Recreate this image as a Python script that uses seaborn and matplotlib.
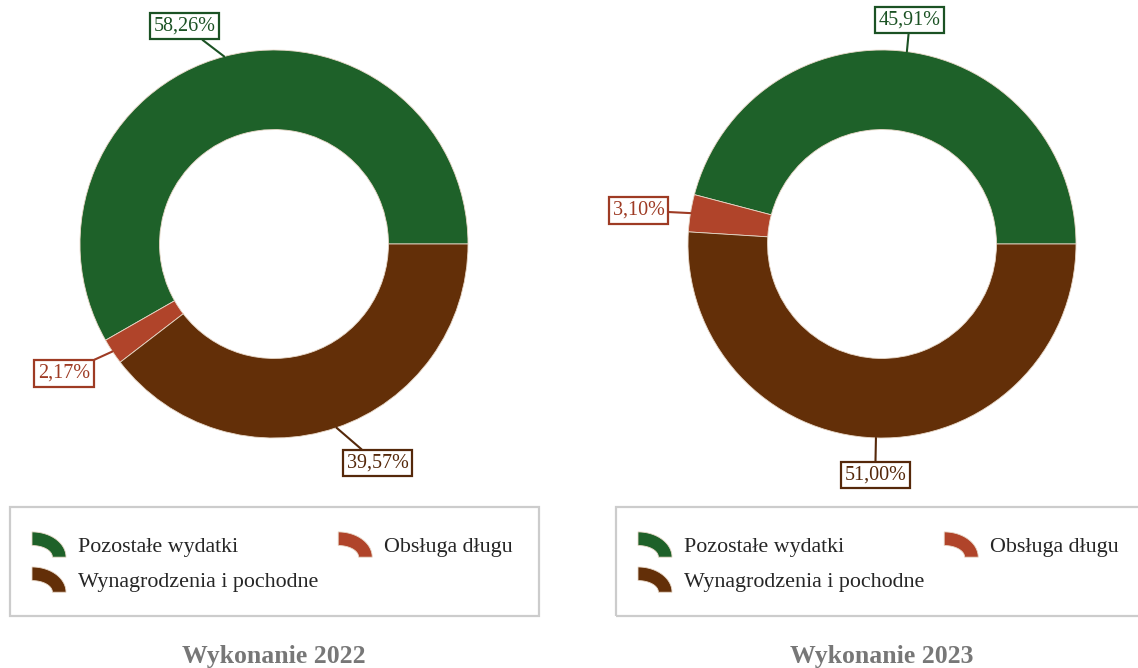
"""Two donut charts: structure of expenses in 2022 and 2023."""

import numpy as np
import matplotlib.pyplot as plt
import seaborn as sns
from matplotlib.patches import Wedge, Rectangle, Polygon
from matplotlib.legend_handler import HandlerPatch

categories = ["Pozostałe wydatki", "Obsługa długu", "Wynagrodzenia i pochodne"]
shares_2022 = [58.26, 2.17, 39.57]
shares_2023 = [45.91, 3.10, 51.00]
titles = ["Wykonanie 2022", "Wykonanie 2023"]

colors = ["#1e6129", "#b0442a", "#632f08"]
label_colors = ["#1b5224", "#9e3b24", "#55280a"]

W, H = 1138, 668


def arc_icon(legend, orig_handle, xdescent, ydescent, width, height, fontsize):
    # quarter of an elliptical ring, centre in the lower left corner
    ry = 1.15 * fontsize
    th = 0.62 * fontsize
    x0 = -xdescent
    y0 = -ydescent + height / 2 - ry / 2
    t = np.linspace(np.pi / 2, 0, 30)
    outer = np.column_stack([x0 + width * np.cos(t), y0 + ry * np.sin(t)])
    inner = np.column_stack([x0 + (width - th) * np.cos(t[::-1]),
                             y0 + (ry - th) * np.sin(t[::-1])])
    return Polygon(np.vstack([outer, inner]), closed=True)


def donut(fig, cx, cy, r, values, title):
    """cx, cy, r in pixels (y from top)"""
    k = 1.35
    ax = fig.add_axes([(cx - k * r) / W, (H - cy - k * r) / H, 2 * k * r / W, 2 * k * r / H])
    wedges, _ = ax.pie(values, colors=colors, startangle=0, counterclock=True,
                       wedgeprops=dict(width=0.41, edgecolor="#e8d8c8", linewidth=0.6))
    ax.set_xlim(-k, k)
    ax.set_ylim(-k, k)
    ax.set_aspect("equal")
    ax.axis("off")
    for w, v, lc in zip(wedges, values, label_colors):
        ang = np.deg2rad((w.theta1 + w.theta2) / 2)
        c, s = np.cos(ang), np.sin(ang)
        if abs(c) < 0.2:
            ha = "center"
        else:
            ha = "left" if c > 0 else "right"
        ax.annotate(f"{v:.2f}".replace(".", ",") + "%", xy=(c, s),
                    xytext=(1.12 * c + np.sign(c) * 0.015 * (ha != "center"),
                            1.12 * s + s * 0.058 - 0.015),
                    ha=ha, va="center", color=lc, fontsize=14.5,
                    bbox=dict(boxstyle="square,pad=0.18", fc="white", ec=lc, lw=1.6),
                    arrowprops=dict(arrowstyle="-", color=lc, lw=1.5, shrinkA=0, shrinkB=0),
                    annotation_clip=False)
    fig.text(cx / W, 1 - 656 / H, title, ha="center", va="center",
             fontsize=18.5, fontweight="bold", color="#777777")
    return wedges


def legend_box(fig, x0, y0, x1, y1, handles):
    fig.patches.append(Rectangle((x0 / W, 1 - y1 / H), (x1 - x0) / W, (y1 - y0) / H,
                                 transform=fig.transFigure, fill=False,
                                 ec="#cccccc", lw=1.6))
    order = [0, 2, 1]
    fig.legend([handles[i] for i in order], [categories[i] for i in order],
               loc="upper left", bbox_to_anchor=((x0 + 22) / W, 1 - (y0 + 27) / H),
               ncol=2, frameon=False, fontsize=15.8, borderaxespad=0, borderpad=0,
               handlelength=1.55, handleheight=1.1, handletextpad=0.55,
               columnspacing=0.9, labelspacing=0.55,
               handler_map={Wedge: HandlerPatch(patch_func=arc_icon)})


def main():
    sns.set_theme(style="white")
    plt.rcParams["font.family"] = ["Liberation Serif", "DejaVu Serif"]
    fig = plt.figure(figsize=(W / 100, H / 100), dpi=100)
    w1 = donut(fig, 274, 244, 194, shares_2022, titles[0])
    w2 = donut(fig, 882, 244, 194, shares_2023, titles[1])
    legend_box(fig, 10, 507, 539, 616, w1)
    legend_box(fig, 616, 507, 1150, 616, w2)
    fig.savefig("out.png", dpi=100, facecolor="white")


if __name__ == "__main__":
    main()
